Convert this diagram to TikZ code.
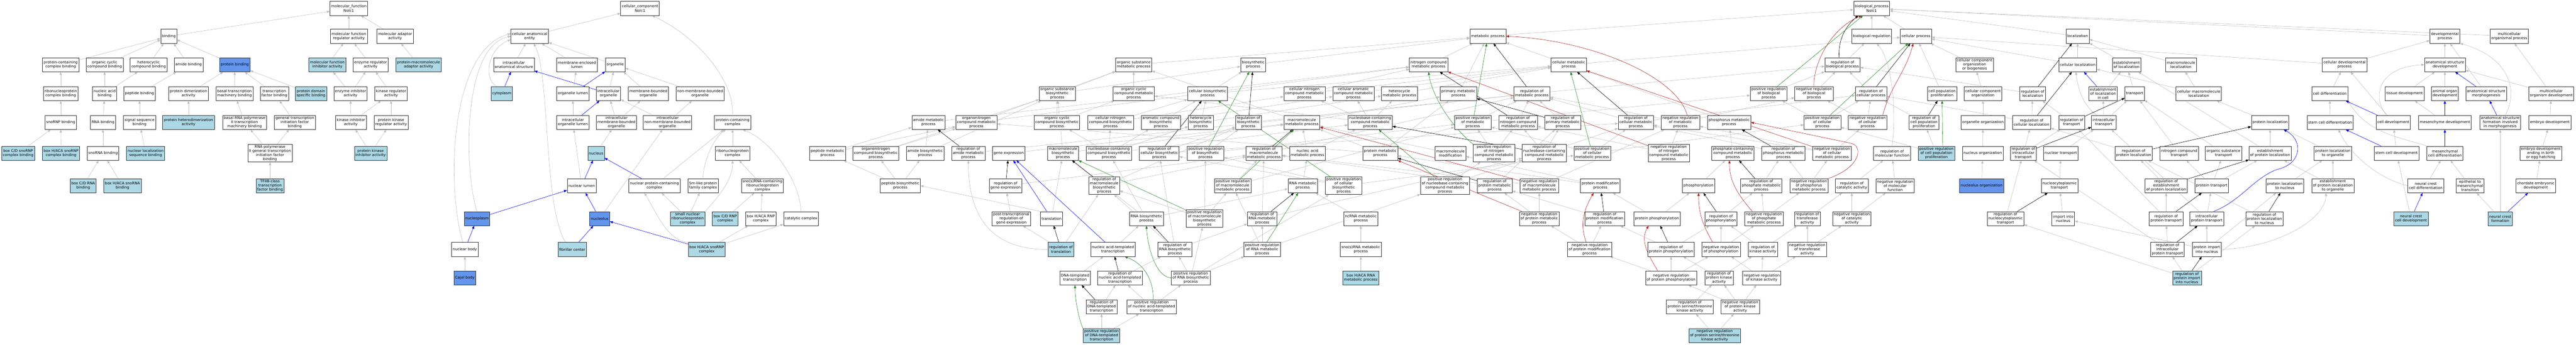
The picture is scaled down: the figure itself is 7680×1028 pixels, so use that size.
\documentclass[tikz,border=0pt]{standalone}
\usepackage{fontspec}
\setmainfont{DejaVu Sans}
\usepackage{xcolor}
\usetikzlibrary{arrows.meta, backgrounds}
\definecolor{termlight}{HTML}{ADD8E6}
\definecolor{termdark}{HTML}{6495ED}
\definecolor{isagray}{HTML}{C0C0C0}
\definecolor{posgreen}{HTML}{228B22}
\definecolor{negred}{HTML}{B22222}

\begin{document}
\begin{tikzpicture}[x=1pt, y=-1pt,
    term/.style={draw=black!80, fill=white, line width=0.9pt, align=center, inner xsep=3.5pt, inner ysep=2pt, minimum height=42pt, font=\fontsize{11}{12.5}\selectfont},
    lbterm/.style={term, fill=termlight},
    dbterm/.style={term, fill=termdark},
    link/.style={line width=0.9pt, -{Triangle[length=9pt, width=7pt]}},
    isa/.style={link, color=isagray},
    partof/.style={link, color=blue},
    regl/.style={link, color=black},
    posreg/.style={link, color=posgreen},
    negreg/.style={link, color=negred}]
                        \useasboundingbox (0,0) rectangle (7680,1028);

                        \node[term] (binding) at (503,108) {binding};
                        \node[term] (pccb) at (181,193) {protein-containing\\complex binding};
                        \node[term] (occb) at (312,193) {organic cyclic\\compound binding};
                        \node[term] (hccb) at (443,193) {heterocyclic\\compound binding};
                        \node[term] (amideb) at (562,193) {amide binding};
                        \node[term] (rnpcb) at (181,279) {ribonucleoprotein\\complex binding};
                        \node[term] (nab) at (312,279) {nucleic acid\\binding};
                        \node[term] (pepb) at (416,279) {peptide binding};
                        \node[term] (pdim) at (562,279) {protein dimerization\\activity};
                        \node[term] (snornpb) at (181,365) {snoRNP binding};
                        \node[term] (rnab) at (307,365) {RNA binding};
                        \node[term] (ssb) at (416,365) {signal sequence\\binding};
                        \node[lbterm] (phdim) at (562,365) {protein heterodimerization\\activity};
                        \node[lbterm] (bcdsnornpb) at (54,457) {box C/D snoRNP\\complex binding};
                        \node[lbterm] (bhsnornpb) at (182,457) {box H/ACA snoRNP\\complex binding};
                        \node[term] (snorab) at (307,457) {snoRNA binding};
                        \node[lbterm] (nlsb) at (434,457) {nuclear localization\\sequence binding};
                        \node[lbterm] (bcdrnab) at (248,554) {box C/D RNA\\binding};
                        \node[lbterm] (bhsnorab) at (365,554) {box H/ACA snoRNA\\binding};

                        \node[term] (mf) at (1040,25) {molecular\_function\\Nolc1};
                        \node[term] (mfreg) at (1040,108) {molecular function\\regulator activity};
                        \node[term] (mfadapt) at (1178,108) {molecular adaptor\\activity};
                        \node[dbterm] (pbind) at (700,193) {protein binding};
                        \node[lbterm] (mfinh) at (976,193) {molecular function\\inhibitor activity};
                        \node[term] (enzreg) at (1105,193) {enzyme regulator\\activity};
                        \node[lbterm] (pmaa) at (1248,193) {protein-macromolecule\\adaptor activity};
                        \node[term] (btmb) at (699,279) {basal transcription\\machinery binding};
                        \node[term] (tfb) at (818,279) {transcription\\factor binding};
                        \node[lbterm] (pdsb) at (927,279) {protein domain\\specific binding};
                        \node[term] (enzinh) at (1045,279) {enzyme inhibitor\\activity};
                        \node[term] (kinreg) at (1166,279) {kinase regulator\\activity};
                        \node[term] (brnap) at (729,365) {basal RNA polymerase\\II transcription\\machinery binding};
                        \node[term] (gtifb) at (879,365) {general transcription\\initiation factor\\binding};
                        \node[term] (kininh) at (1046,365) {kinase inhibitor\\activity};
                        \node[term] (pkreg) at (1166,365) {protein kinase\\regulator activity};
                        \node[term] (rnapgtif) at (805,457) {RNA polymerase\\II general transcription\\initiation factor\\binding};
                        \node[lbterm] (pkinh) at (1105,457) {protein kinase\\inhibitor activity};
                        \node[lbterm] (tfiib) at (805,554) {TFIIB-class\\transcription\\factor binding};

                        \node[term] (cc) at (1908,25) {cellular\_component\\Nolc1};
                        \node[term] (cae) at (1579,108) {cellular anatomical\\entity};
                        \node[term] (ias) at (1532,193) {intracellular\\anatomical structure};
                        \node[term] (mel) at (1720,193) {membrane-enclosed\\lumen};
                        \node[term] (organelle) at (1834,193) {organelle};
                        \node[lbterm] (cytoplasm) at (1496,279) {cytoplasm};
                        \node[term] (orglumen) at (1708,279) {organelle lumen};
                        \node[term] (intorg) at (1814,279) {intracellular\\organelle};
                        \node[term] (mbo) at (1933,279) {membrane-bounded\\organelle};
                        \node[term] (nmbo) at (2087,279) {non-membrane-bounded\\organelle};
                        \node[term] (iol) at (1708,365) {intracellular\\organelle lumen};
                        \node[term] (imbo) at (1838,365) {intracellular\\membrane-bounded\\organelle};
                        \node[term] (inmbo) at (1990,365) {intracellular\\non-membrane-bounded\\organelle};
                        \node[term] (pcc) at (2184,365) {protein-containing\\complex};
                        \node[lbterm] (nucleus) at (1777,457) {nucleus};
                        \node[term] (rnpc) at (2184,457) {ribonucleoprotein\\complex};
                        \node[term] (nuclumen) at (1734,554) {nuclear lumen};
                        \node[term] (npcc) at (1951,554) {nuclear protein-containing\\complex};
                        \node[term] (smlike) at (2096,554) {Sm-like protein\\family complex};
                        \node[term] (snornpc) at (2273,554) {sno(s)RNA-containing\\ribonucleoprotein\\complex};
                        \node[dbterm] (nucleoplasm) at (1422,652) {nucleoplasm};
                        \node[dbterm] (nucleolus) at (1788,652) {nucleolus};
                        \node[lbterm] (snrnp) at (2050,652) {small nuclear\\ribonucleoprotein\\complex};
                        \node[lbterm] (bcdrnp) at (2162,652) {box C/D RNP\\complex};
                        \node[term] (bhrnp) at (2268,652) {box H/ACA RNP\\complex};
                        \node[term] (catcomplex) at (2388,652) {catalytic complex};
                        \node[term] (nucbody) at (1386,744) {nuclear body};
                        \node[lbterm] (fibc) at (1706,744) {fibrillar center};
                        \node[lbterm] (bhsnornp) at (2107,744) {box H/ACA snoRNP\\complex};
                        \node[dbterm] (cajal) at (1386,829) {Cajal body};

                        \node[term] (pepmp) at (2467,457) {peptide metabolic\\process};
                        \node[term] (oncbp) at (2611,457) {organonitrogen\\compound biosynthetic\\process};
                        \node[term] (amidemp) at (2768,365) {amide metabolic\\process};
                        \node[term] (oncmp) at (2911,365) {organonitrogen\\compound metabolic\\process};
                        \node[term] (osbp) at (3152,279) {organic substance\\biosynthetic\\process};
                        \node[term] (occbp) at (3151,365) {organic cyclic\\compound biosynthetic\\process};
                        \node[term] (amidebp) at (2758,457) {amide biosynthetic\\process};
                        \node[term] (regamide) at (2887,457) {regulation of\\amide metabolic\\process};
                        \node[term] (geneexp) at (3007,457) {gene expression};
                        \node[term] (mbp) at (3169,457) {macromolecule\\biosynthetic\\process};
                        \node[term] (pepbp) at (2684,554) {peptide biosynthetic\\process};
                        \node[term] (reggene) at (2998,554) {regulation of\\gene expression};
                        \node[term] (ptrgene) at (3015,652) {post-transcriptional\\regulation of\\gene expression};
                        \node[term] (translation) at (3135,652) {translation};
                        \node[lbterm] (regtrans) at (3163,744) {regulation of\\translation};
                        \node[term] (dnatt) at (3205,829) {DNA-templated\\transcription};

                        \node[term] (osmp) at (3380,193) {organic substance\\metabolic process};
                        \node[term] (biosynth) at (3736,193) {biosynthetic\\process};
                        \node[term] (occmp) at (3380,279) {organic cyclic\\compound metabolic\\process};
                        \node[term] (cbp) at (3600,279) {cellular biosynthetic\\process};
                        \node[term] (cncmp) at (3889,279) {cellular nitrogen\\compound metabolic\\process};
                        \node[term] (cncbp) at (3311,365) {cellular nitrogen\\compound biosynthetic\\process};
                        \node[term] (arombp) at (3461,365) {aromatic compound\\biosynthetic\\process};
                        \node[term] (hetbp) at (3580,365) {heterocycle\\biosynthetic\\process};
                        \node[term] (regbiosynth) at (3722,365) {regulation of\\biosynthetic\\process};
                        \node[term] (macromp) at (3881,365) {macromolecule\\metabolic process};
                        \node[term] (nbcbp) at (3306,457) {nucleobase-containing\\compound biosynthetic\\process};
                        \node[term] (regcbp) at (3456,457) {regulation of\\cellular biosynthetic\\process};
                        \node[term] (posbiosynth) at (3594,457) {positive regulation\\of biosynthetic\\process};
                        \node[term] (regmacromp) at (3768,457) {regulation of\\macromolecule\\metabolic process};
                        \node[term] (regmbp) at (3292,554) {regulation of\\macromolecule\\biosynthetic\\process};
                        \node[term] (posmacromp) at (3675,554) {positive regulation\\of macromolecule\\metabolic process};
                        \node[term] (rnabp) at (3418,652) {RNA biosynthetic\\process};
                        \node[term] (posmbp) at (3591,652) {positive regulation\\of macromolecule\\biosynthetic\\process};
                        \node[term] (regrnamp) at (3763,652) {regulation of\\RNA metabolic\\process};
                        \node[term] (nattr) at (3318,744) {nucleic acid-templated\\transcription};
                        \node[term] (regrnabp) at (3503,744) {regulation of\\RNA biosynthetic\\process};
                        \node[term] (posrnamp) at (3763,744) {positive regulation\\of RNA metabolic\\process};
                        \node[term] (regnattr) at (3339,829) {regulation of\\nucleic acid-templated\\transcription};
                        \node[term] (posrnabp) at (3550,829) {positive regulation\\of RNA biosynthetic\\process};
                        \node[term] (regdnatt) at (3284,915) {regulation of\\DNA-templated\\transcription};
                        \node[term] (posnattr) at (3433,915) {positive regulation\\of nucleic acid-templated\\transcription};
                        \node[lbterm] (posdnatt) at (3284,1001) {positive regulation\\of DNA-templated\\transcription};

                        \node[term] (metab) at (4436,108) {metabolic process};
                        \node[term] (ncmp) at (4259,193) {nitrogen compound\\metabolic process};
                        \node[term] (camp) at (4035,279) {cellular aromatic\\compound metabolic\\process};
                        \node[term] (hetmp) at (4172,279) {heterocycle\\metabolic process};
                        \node[term] (primary) at (4348,279) {primary metabolic\\process};
                        \node[term] (nbcmp) at (4085,365) {nucleobase-containing\\compound metabolic\\process};
                        \node[term] (posmetab) at (4391,365) {positive regulation\\of metabolic\\process};
                        \node[term] (regncmp) at (4526,365) {regulation of\\nitrogen compound\\metabolic process};
                        \node[term] (namp) at (3898,457) {nucleic acid\\metabolic process};
                        \node[term] (protmp) at (4115,457) {protein metabolic\\process};
                        \node[term] (macromod) at (4324,457) {macromolecule\\modification};
                        \node[term] (posncmp) at (4454,457) {positive regulation\\of nitrogen\\compound metabolic\\process};
                        \node[term] (rnamp) at (3884,554) {RNA metabolic\\process};
                        \node[term] (poscbp) at (4006,554) {positive regulation\\of cellular\\biosynthetic\\process};
                        \node[term] (posnbcmp) at (4308,554) {positive regulation\\of nucleobase-containing\\compound metabolic\\process};
                        \node[term] (regprotmp) at (4456,554) {regulation of\\protein metabolic\\process};
                        \node[term] (ncrnamp) at (4057,652) {ncRNA metabolic\\process};
                        \node[term] (snornamp) at (4057,744) {sno(s)RNA metabolic\\process};
                        \node[lbterm] (bhrnamp) at (4057,829) {box H/ACA RNA\\metabolic process};

                        \node[term] (cmp) at (4677,193) {cellular metabolic\\process};
                        \node[term] (regmetab) at (4567,279) {regulation of\\metabolic process};
                        \node[term] (regprimary) at (4659,365) {regulation of\\primary metabolic\\process};
                        \node[term] (regcmp) at (4877,365) {regulation of\\cellular metabolic\\process};
                        \node[term] (negmetab) at (5010,365) {negative regulation\\of metabolic\\process};
                        \node[term] (phosmp) at (5155,365) {phosphorus metabolic\\process};
                        \node[term] (regnbcmp) at (4604,457) {regulation of\\nucleobase-containing\\compound metabolic\\process};
                        \node[term] (poscmp) at (4747,457) {positive regulation\\of cellular\\metabolic process};
                        \node[term] (negncmp) at (4975,457) {negative regulation\\of nitrogen\\compound metabolic\\process};
                        \node[term] (phoscmp) at (5166,457) {phosphate-containing\\compound metabolic\\process};
                        \node[term] (negmacromp) at (4589,554) {negative regulation\\of macromolecule\\metabolic process};
                        \node[term] (protmod) at (4771,554) {protein modification\\process};
                        \node[term] (phosphorylation) at (5064,554) {phosphorylation};
                        \node[term] (negprotmp) at (4589,652) {negative regulation\\of protein metabolic\\process};
                        \node[term] (regprotmod) at (4784,652) {regulation of\\protein modification\\process};
                        \node[term] (protphos) at (4940,652) {protein phosphorylation};
                        \node[term] (regphos) at (5131,652) {regulation of\\phosphorylation};
                        \node[term] (negprotmod) at (4739,744) {negative regulation\\of protein modification\\process};
                        \node[term] (regprotphos) at (4982,744) {regulation of\\protein phosphorylation};
                        \node[term] (negphos) at (5131,744) {negative regulation\\of phosphorylation};
                        \node[term] (negprotphos) at (4982,829) {negative regulation\\of protein phosphorylation};
                        \node[term] (regpk) at (5125,829) {regulation of\\protein kinase\\activity};
                        \node[term] (regpst) at (5038,915) {regulation of\\protein serine/threonine\\kinase activity};
                        \node[lbterm] (negpst) at (5112,1001) {negative regulation\\of protein serine/threonine\\kinase activity};

                        \node[term] (bp) at (5580,25) {biological\_process\\Nolc1};
                        \node[term] (bioreg) at (5580,108) {biological regulation};
                        \node[term] (cellproc) at (5712,108) {cellular process};
                        \node[term] (regbp) at (5493,193) {regulation of\\biological process};
                        \node[term] (posbp) at (5273,279) {positive regulation\\of biological\\process};
                        \node[term] (negbp) at (5408,279) {negative regulation\\of biological\\process};
                        \node[term] (regcp) at (5578,279) {regulation of\\cellular process};
                        \node[term] (ccpop) at (5790,279) {cell population\\proliferation};
                        \node[term] (poscp) at (5433,365) {positive regulation\\of cellular\\process};
                        \node[term] (negcp) at (5568,365) {negative regulation\\of cellular\\process};
                        \node[term] (regccpop) at (5736,365) {regulation of\\cell population\\proliferation};
                        \node[term] (regphosmp) at (5317,457) {regulation of\\phosphorus metabolic\\process};
                        \node[term] (negcmp) at (5462,457) {negative regulation\\of cellular\\metabolic process};
                        \node[term] (regmf) at (5641,457) {regulation of\\molecular function};
                        \node[lbterm] (posccpop) at (5773,457) {positive regulation\\of cell population\\proliferation};
                        \node[term] (regphoscmp) at (5251,554) {regulation of\\phosphate metabolic\\process};
                        \node[term] (negphosmp) at (5393,554) {negative regulation\\of phosphorus\\metabolic process};
                        \node[term] (regcat) at (5521,554) {regulation of\\catalytic activity};
                        \node[term] (negmf) at (5650,554) {negative regulation\\of molecular\\function};
                        \node[term] (negphoscmp) at (5259,652) {negative regulation\\of phosphate\\metabolic process};
                        \node[term] (regtransf) at (5388,652) {regulation of\\transferase\\activity};
                        \node[term] (negcat) at (5521,652) {negative regulation\\of catalytic\\activity};
                        \node[term] (regkin) at (5256,744) {regulation of\\kinase activity};
                        \node[term] (negtransf) at (5388,744) {negative regulation\\of transferase\\activity};
                        \node[term] (negkin) at (5252,829) {negative regulation\\of kinase activity};
                        \node[term] (negpk) at (5188,915) {negative regulation\\of protein kinase\\activity};

                        \node[term] (localization) at (6194,108) {localization};
                        \node[term] (ccob) at (5887,193) {cellular component\\organization\\or biogenesis};
                        \node[term] (cellloc) at (6194,193) {cellular localization};
                        \node[term] (estloc) at (6340,193) {establishment\\of localization};
                        \node[term] (ccorg) at (5912,279) {cellular component\\organization};
                        \node[term] (regloc) at (6060,279) {regulation of\\localization};
                        \node[term] (estloccell) at (6270,279) {establishment\\of localization\\in cell};
                        \node[term] (transport) at (6364,279) {transport};
                        \node[term] (orgorg) at (5912,365) {organelle organization};
                        \node[term] (regcellloc) at (6057,365) {regulation of\\cellular localization};
                        \node[term] (regtransport) at (6176,365) {regulation of\\transport};
                        \node[term] (inttransport) at (6272,365) {intracellular\\transport};
                        \node[term] (nucorg) at (5911,457) {nucleus organization};
                        \node[term] (regintt) at (6032,457) {regulation of\\intracellular\\transport};
                        \node[term] (nuctransport) at (6144,457) {nuclear transport};
                        \node[term] (regprotloc) at (6361,457) {regulation of\\protein localization};
                        \node[dbterm] (nucleolusorg) at (5908,554) {nucleolus organization};
                        \node[term] (nctransport) at (6140,554) {nucleocytoplasmic\\transport};
                        \node[term] (regnct) at (5979,652) {regulation of\\nucleocytoplasmic\\transport};
                        \node[term] (importnuc) at (6151,652) {import into\\nucleus};

                        \node[term] (macroloc) at (6502,193) {macromolecule\\localization};
                        \node[term] (celldevproc) at (6990,193) {cellular developmental\\process};
                        \node[term] (cmacroloc) at (6555,279) {cellular macromolecule\\localization};
                        \node[term] (celldiff) at (6946,279) {cell differentiation};
                        \node[term] (protloc) at (6768,365) {protein localization};
                        \node[term] (stemdiff) at (6947,365) {stem cell differentiation};
                        \node[term] (ncompt) at (6497,457) {nitrogen compound\\transport};
                        \node[term] (ostransport) at (6629,457) {organic substance\\transport};
                        \node[term] (estprotloc) at (6768,457) {establishment\\of protein localization};
                        \node[term] (protlocorg) at (6955,457) {protein localization\\to organelle};
                        \node[term] (regestprotloc) at (6458,554) {regulation of\\establishment\\of protein localization};
                        \node[term] (prottransport) at (6594,554) {protein transport};
                        \node[term] (protlocnuc) at (6812,554) {protein localization\\to nucleus};
                        \node[term] (estprotlocorg) at (6955,554) {establishment\\of protein localization\\to organelle};
                        \node[term] (regprottransport) at (6458,652) {regulation of\\protein transport};
                        \node[term] (intprottransport) at (6579,652) {intracellular\\protein transport};
                        \node[term] (regprotlocnuc) at (6751,652) {regulation of\\protein localization\\to nucleus};
                        \node[term] (regintprot) at (6462,744) {regulation of\\intracellular\\protein transport};
                        \node[term] (protimport) at (6579,744) {protein import\\into nucleus};
                        \node[lbterm] (regprotimport) at (6520,829) {regulation of\\protein import\\into nucleus};

                        \node[term] (devproc) at (7289,108) {developmental\\process};
                        \node[term] (mcop) at (7481,108) {multicellular\\organismal process};
                        \node[term] (asd) at (7289,193) {anatomical structure\\development};
                        \node[term] (tissuedev) at (7169,279) {tissue development};
                        \node[term] (organdev) at (7289,279) {animal organ\\development};
                        \node[term] (asm) at (7412,279) {anatomical structure\\morphogenesis};
                        \node[term] (mcodev) at (7606,279) {multicellular\\organism development};
                        \node[term] (celldev) at (7135,365) {cell development};
                        \node[term] (mesdev) at (7289,365) {mesenchyme development};
                        \node[term] (asfm) at (7454,365) {anatomical structure\\formation involved\\in morphogenesis};
                        \node[term] (embdev) at (7602,365) {embryo development};
                        \node[term] (stemdev) at (7145,457) {stem cell development};
                        \node[term] (mesdiff) at (7289,457) {mesenchymal\\cell differentiation};
                        \node[term] (embbirth) at (7575,457) {embryo development\\ending in birth\\or egg hatching};
                        \node[term] (ncdiff) at (7232,554) {neural crest\\cell differentiation};
                        \node[term] (emt) at (7364,554) {epithelial to\\mesenchymal\\transition};
                        \node[term] (chordate) at (7560,554) {chordate embryonic\\development};
                        \node[lbterm] (ncdev) at (7188,652) {neural crest\\cell development};
                        \node[lbterm] (ncform) at (7454,652) {neural crest\\formation};

                        \begin{pgfonlayer}{background}
                            \fill[white] (0,0) rectangle (7680,1028);
                            \foreach \a/\b in {pccb/binding, occb/binding, hccb/binding, amideb/binding, pbind/binding, binding/mf, rnpcb/pccb, snornpb/rnpcb, bcdsnornpb/snornpb, bhsnornpb/snornpb, nab/occb, nab/hccb, rnab/nab, snorab/rnab, bcdrnab/snorab, bhsnorab/snorab, pepb/amideb, ssb/pepb, nlsb/ssb, pdim/pbind, phdim/pdim, btmb/pbind, tfb/pbind, pdsb/pbind, brnap/btmb, gtifb/tfb, rnapgtif/brnap, rnapgtif/gtifb, tfiib/rnapgtif, mfreg/mf, mfadapt/mf, mfinh/mfreg, enzreg/mfreg, pmaa/mfadapt, enzinh/mfinh, enzinh/enzreg, kinreg/enzreg, kininh/enzinh, kininh/kinreg, pkreg/kinreg, pkinh/kininh, pkinh/pkreg} {
                                \draw[isa] (\a) -- (\b);
                            }
                            \foreach \a/\b in {cae/cc, ias/cae, mel/cae, organelle/cae, orglumen/mel, intorg/organelle, mbo/organelle, nmbo/organelle, iol/orglumen, imbo/intorg, imbo/mbo, inmbo/intorg, inmbo/nmbo, nucleus/imbo, nuclumen/iol, nucleolus/inmbo, cajal/nucbody, bhsnornp/bhrnp, bhsnornp/catcomplex, snrnp/npcc, snrnp/smlike, npcc/pcc, rnpc/pcc, snornpc/rnpc, bcdrnp/snornpc, bhrnp/snornpc} {
                                \draw[isa] (\a) -- (\b);
                            }
                            \foreach \a/\b in {cytoplasm/ias, orglumen/organelle, intorg/ias, iol/intorg, nuclumen/nucleus, npcc/nucleus, nucleoplasm/nuclumen, nucleolus/nuclumen, nucbody/nucleoplasm, fibc/nucleolus, bhsnornp/nucleolus} {
                                \draw[partof] (\a) -- (\b);
                            }
                            \draw[isa] ([xshift=-16pt]cytoplasm.north) .. controls (1440,235) and (1455,145) .. (cae.190);
                            \draw[isa] (nucleoplasm.north) .. controls (1385,520) and (1375,140) .. (cae.west);
                            \draw[isa] ([xshift=-6pt]nucbody.north) .. controls (1330,560) and (1340,150) .. (cae.172);
                            \draw[isa] ([xshift=-20pt]fibc.north) .. controls (1620,620) and (1640,220) .. ([xshift=12pt]cae.south);
                            \draw[isa] (pcc.north) .. controls (2190,240) and (2080,110) .. ([xshift=36pt]cc.south);
                            \draw[isa] (bhsnornp.north west) .. controls (1990,720) and (1955,630) .. ([xshift=-30pt]npcc.south);
                            \draw[isa] (snrnp.north east) .. controls (2130,600) and (2185,540) .. (rnpc.south);
                            \draw[isa] (smlike.north) .. controls (2096,480) and (2130,410) .. ([xshift=-20pt]pcc.south);
                            \draw[isa] (catcomplex.north) .. controls (2385,540) and (2300,420) .. ([xshift=30pt]pcc.south);

                            \foreach \a/\b in {osmp/metab, biosynth/metab, ncmp/metab, cmp/metab, primary/metab, metab/bp, cmp/cellproc, occmp/osmp, cbp/biosynth, cbp/cmp, cncmp/ncmp, cncmp/cmp, camp/cmp, hetmp/cmp, osbp/osmp, osbp/biosynth, regmetab/regbp, amidemp/ncmp, oncmp/osmp, oncmp/ncmp, occbp/occmp, occbp/osbp, cncbp/cncmp, cncbp/cbp, arombp/cbp, arombp/camp, hetbp/cbp, hetbp/hetmp, regbiosynth/regmetab, macromp/osmp, macromp/primary, nbcmp/camp, nbcmp/hetmp, nbcmp/cncmp, nbcmp/occmp, posmetab/regmetab, posmetab/posbp, regncmp/regmetab, regprimary/regmetab, regcmp/regmetab, regcmp/regcp, negmetab/regmetab, negmetab/negbp, phosmp/cmp, pepmp/amidemp, pepmp/oncmp, oncbp/oncmp, oncbp/osbp, amidebp/amidemp, amidebp/osbp, regamide/regmetab, geneexp/macromp, mbp/macromp, mbp/osbp, nbcbp/nbcmp, nbcbp/cncbp, nbcbp/arombp, nbcbp/hetbp, nbcbp/occbp, regcbp/regbiosynth, regcbp/regcmp, posbiosynth/regbiosynth, posbiosynth/posmetab, regmacromp/regmetab, namp/nbcmp, namp/macromp, protmp/macromp, protmp/oncmp, protmp/primary, macromod/macromp, posncmp/regncmp, posncmp/posmetab, regnbcmp/regncmp, regnbcmp/regprimary, regnbcmp/regcmp, poscmp/regcmp, poscmp/posmetab, poscmp/poscp, negncmp/regncmp, negncmp/negmetab, phoscmp/phosmp} {
                                \draw[isa] (\a) -- (\b);
                            }
                            \foreach \a/\b in {pepbp/oncbp, pepbp/amidebp, pepbp/pepmp, reggene/regmacromp, regmbp/regmacromp, regmbp/regbiosynth, posmacromp/regmacromp, posmacromp/posmetab, rnamp/namp, poscbp/posbiosynth, poscbp/regcbp, poscbp/poscmp, posnbcmp/regnbcmp, posnbcmp/posncmp, regprotmp/regmacromp, regprotmp/regprimary, negmacromp/regmacromp, negmacromp/negmetab, protmod/macromod, protmod/protmp, phosphorylation/phoscmp, ptrgene/reggene, translation/mbp, regtrans/ptrgene, regtrans/regmbp, rnabp/nbcbp, rnabp/rnamp, rnabp/mbp, posmbp/regmbp, posmbp/posbiosynth, posmbp/posmacromp, regrnamp/regnbcmp, regrnamp/regmacromp, ncrnamp/rnamp, negprotmp/negmacromp, negprotmp/regprotmp, regprotmod/regprotmp, protphos/protmod, protphos/phosphorylation, regphos/regphoscmp, regrnabp/regrnamp, regrnabp/regmbp, regrnabp/regcbp, nattr/rnabp, posrnamp/regrnamp, posrnamp/posmacromp, posrnamp/posnbcmp, snornamp/ncrnamp, negprotmod/negprotmp, negprotmod/regprotmod, regprotphos/regprotmod, regprotphos/regphos, negphos/regphos, negphos/negphoscmp, dnatt/nattr, regnattr/regrnabp, posrnabp/regrnabp, posrnabp/posrnamp, posrnabp/posmbp, posrnabp/poscbp, bhrnamp/snornamp, negprotphos/negprotmod, negprotphos/regprotphos, negprotphos/negphos, regpk/regprotphos, regpk/regkin, regdnatt/regnattr, posnattr/regnattr, posnattr/posrnabp, regpst/regpk, posdnatt/regdnatt, posdnatt/posnattr, negpst/regpst, negpst/negpk} {
                                \draw[isa] (\a) -- (\b);
                            }
                            \foreach \a/\b in {bioreg/bp, cellproc/bp, regbp/bioreg, regcp/regbp, posbp/regbp, negbp/regbp, poscp/posbp, poscp/regcp, negcp/negbp, negcp/regcp, regphosmp/regcmp, negcmp/negmetab, negcmp/regcmp, negcmp/negcp, regphoscmp/regphosmp, negphosmp/regphosmp, negphosmp/negcmp, negphoscmp/regphoscmp, negphoscmp/negphosmp, regcat/regmf, negmf/regmf, negcat/regcat, negcat/negmf, regtransf/regcat, negtransf/regtransf, negtransf/negcat, regkin/regtransf, regkin/regphos, negkin/regkin, negkin/negphos, negkin/negtransf, negpk/regpk, negpk/negkin, negpk/negprotphos, regccpop/regcp, ccpop/cellproc, posccpop/regccpop, posccpop/poscp} {
                                \draw[isa] (\a) -- (\b);
                            }
                            \foreach \a/\b in {ccob/cellproc, ccorg/ccob, orgorg/ccorg, nucorg/orgorg, nucleolusorg/nucorg, localization/bp, cellloc/localization, cellloc/cellproc, estloc/localization, regloc/regbp, transport/estloc, estloccell/estloc, regcellloc/regloc, regcellloc/regcp, regtransport/regloc, inttransport/transport, inttransport/estloccell, regintt/regcellloc, regintt/regtransport, nuctransport/inttransport, nctransport/nuctransport, importnuc/nctransport, regnct/regintt, regprotloc/regcellloc, regestprotloc/regprotloc, regprottransport/regestprotloc, regprottransport/regtransport, regintprot/regprottransport, regintprot/regintt, regprotimport/regintprot, regprotimport/regprotlocnuc, regprotimport/regnct, regprotlocnuc/regprotloc, protimport/intprottransport, protimport/importnuc, protimport/protlocnuc, intprottransport/prottransport, intprottransport/inttransport, prottransport/ncompt, prottransport/ostransport, prottransport/estprotloc, estprotloc/protloc, estprotloc/estloc, protloc/cmacroloc, cmacroloc/macroloc, cmacroloc/cellloc, macroloc/localization, protlocorg/protloc, protlocnuc/protlocorg, estprotlocorg/protlocorg, estprotlocorg/estprotloc, ncompt/transport, ostransport/transport} {
                                \draw[isa] (\a) -- (\b);
                            }
                            \foreach \a/\b in {devproc/bp, mcop/bp, celldevproc/devproc, celldevproc/cellproc, celldiff/celldevproc, stemdiff/celldiff, celldev/celldevproc, stemdev/celldev, ncdiff/mesdiff, ncdev/stemdev, ncform/emt, ncform/asfm, emt/mesdiff, mesdev/tissuedev, tissuedev/asd, organdev/asd, asm/devproc, asd/devproc, mcodev/asd, mcodev/mcop, embdev/mcodev, embbirth/embdev, chordate/embbirth} {
                                \draw[isa] (\a) -- (\b);
                            }
                            \draw[isa] (regtrans.west) .. controls (2950,745) and (2887,640) .. (regamide.south);
                            \draw[isa] (translation.north west) -- (pepbp.east);
                            \draw[isa] (regmf.north) .. controls (5655,330) and (5640,180) .. ([xshift=15pt]bioreg.south);
                            \draw[isa] ([xshift=-20pt]inttransport.north) .. controls (6215,320) and (6195,270) .. ([xshift=-5pt]cellloc.south);
                            \draw[isa] (protimport.east) .. controls (6780,740) and (6930,660) .. ([xshift=-20pt]estprotlocorg.south);
                            \draw[isa] ([xshift=-20pt]celldev.north) .. controls (7070,290) and (7090,200) .. (asd.west);
                            \draw[isa] ([xshift=15pt]asfm.north) .. controls (7510,270) and (7480,170) .. (devproc.south east);
                            \draw[isa] (ncdiff.west) .. controls (7080,530) and (7000,450) .. ([xshift=25pt]stemdiff.south);
                            \draw[isa] (mesdiff.north west) .. controls (7160,410) and (7060,400) .. (celldiff.south east);

                            \foreach \a/\b in {translation/geneexp, nattr/geneexp, estloccell/cellloc, celldev/celldiff, stemdev/stemdiff, ncdev/ncdiff, ncform/chordate, mesdiff/mesdev, mesdev/organdev, asm/asd, asfm/asm} {
                                \draw[partof] (\a) -- (\b);
                            }
                            \draw[partof] ([xshift=-30pt]intprottransport.north east) .. controls (6680,600) and (6720,530) .. (6790,505) .. controls (6860,490) and (6870,420) .. ([xshift=40pt]protloc.south);

                            \foreach \a/\b in {regcp/cellproc, regmetab/metab, regncmp/ncmp, regprimary/primary, regcmp/cmp, regbiosynth/biosynth, regcbp/cbp, regmacromp/macromp, regamide/amidemp, reggene/geneexp, regmbp/mbp, regnbcmp/nbcmp, regprotmp/protmp, regtrans/translation, regrnamp/rnamp, regprotmod/protmod, regrnabp/rnabp, regnattr/nattr, regprotphos/protphos, regphos/phosphorylation, regdnatt/dnatt, regphosmp/phosmp, regphoscmp/phoscmp, regccpop/ccpop, regloc/localization, regcellloc/cellloc, regtransport/transport, regintt/inttransport, regnct/nctransport, regprotloc/protloc, regestprotloc/estprotloc, regprottransport/prottransport, regintprot/intprottransport, regprotimport/protimport, regprotlocnuc/protlocnuc} {
                                \draw[regl] (\a) -- (\b);
                            }
                            \draw[regl] ([xshift=-10pt]regbp.north) .. controls (5480,120) and (5500,80) .. ([xshift=-40pt]bp.south);

                            \foreach \a/\b in {poscp/cellproc, posmetab/metab, poscmp/cmp, posbiosynth/biosynth, posmacromp/macromp, poscbp/cbp, posnbcmp/nbcmp, posmbp/mbp, posrnamp/rnamp, posbp/bp} {
                                \draw[posreg] (\a) -- (\b);
                            }
                            \draw[posreg] ([xshift=19pt]posccpop.north) -- (ccpop.south);
                            \draw[posreg] (posncmp.north west) .. controls (4330,380) and (4270,290) .. (ncmp.south);
                            \draw[posreg] ([xshift=5pt]posnattr.north) .. controls (3440,850) and (3420,790) .. ([xshift=35pt]nattr.south);
                            \draw[posreg] (posrnabp.west) .. controls (3440,825) and (3420,720) .. (rnabp.south);
                            \draw[posreg] (posdnatt.north west) .. controls (3215,950) and (3205,890) .. (dnatt.south);

                            \foreach \a/\b in {negcmp/cmp, negncmp/ncmp, negmacromp/macromp, negprotmp/protmp} {
                                \draw[negreg] (\a) -- (\b);
                            }
                            \draw[negreg] (negbp.north) .. controls (5405,200) and (5450,90) .. ([xshift=-30pt]bp.south);
                            \draw[negreg] ([xshift=45pt]negcp.north) to[out=75, in=-105] ([xshift=-8pt]cellproc.south);
                            \draw[negreg] ([xshift=20pt]negmetab.north) .. controls (5000,230) and (4750,120) .. (metab.east);
                            \draw[negreg] (negphosmp.north east) .. controls (5545,500) and (5555,440) .. (5522,428) -- (phosmp.east);
                            \draw[negreg] ([xshift=-10pt]negprotmod.north) to[out=110, in=-120] ([xshift=-20pt]protmod.south);
                            \draw[negreg] ([xshift=-40pt]negprotphos.north) to[out=120, in=-120] ([xshift=-25pt]protphos.south);
                            \draw[negreg] ([xshift=-25pt]negphos.north) to[out=120, in=-90] (phosphorylation.south);
                            \draw[negreg] ([xshift=-35pt]negphoscmp.north) to[out=130, in=-90] ([xshift=-10pt]phoscmp.south);
                        \end{pgfonlayer}
                    \end{tikzpicture}
\end{document}
